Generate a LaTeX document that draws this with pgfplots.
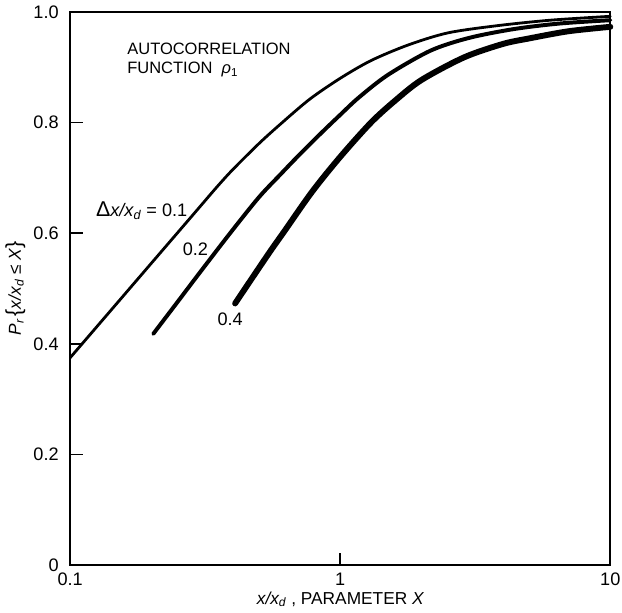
\documentclass[border=0pt]{standalone}
\usepackage{fontspec}
\setmainfont{Liberation Sans}
\usepackage{pgfplots}
\pgfplotsset{compat=1.18}
\begin{document}
\begin{tikzpicture}
\begin{axis}[
  width=328pt, height=336pt, scale only axis,
  xmode=log, xmin=0.1, xmax=10, ymin=0, ymax=1,
  xtick={0.1,1,10}, xticklabels={0.1,1,10},
  ytick={0,0.2,0.4,0.6,0.8,1}, yticklabels={0,0.2,0.4,0.6,0.8,1.0},
  xminorticks=false,
  tick align=inside, xtick pos=bottom, ytick pos=left,
  major tick length=7.5pt,
  axis line style={line width=1.2pt},
  every tick/.style={black, line width=1pt},
  ticklabel style={font=\fontsize{11}{13}\selectfont},
  yticklabel style={xshift=-3.5pt},
  xticklabel style={inner sep=1pt, yshift=-3.5pt},
  /pgf/number format/assume math mode=true,
  xlabel={\itshape x/x\textsubscript{d}\upshape\ , PARAMETER \itshape X},
  ylabel={\itshape P\textsubscript{r}\upshape\,{\fontsize{13}{14}\selectfont\{}\itshape x/x\textsubscript{d} \upshape≤ \itshape X\upshape{\fontsize{13}{14}\selectfont\}}},
  label style={font=\fontsize{10.5}{12}\selectfont},
  ylabel style={yshift=-2pt},
  xlabel style={yshift=1pt},
  clip=false,
]
\addplot[black, line width=1.7pt, smooth, tension=0.5, line cap=round] coordinates {
 (0.1,0.375) (0.15,0.475) (0.2,0.546) (0.25,0.601) (0.3,0.646) (0.35,0.684)
 (0.4,0.715) (0.5,0.762) (0.6,0.797) (0.77,0.842) (1,0.88) (1.3,0.912)
 (1.78,0.94) (2.5,0.962) (3.8,0.975) (6,0.985) (10,0.992)};
\addplot[black, line width=2.4pt, smooth, tension=0.5, line cap=round] coordinates {
 (0.203,0.418) (0.25,0.476) (0.3,0.527) (0.391,0.6) (0.5,0.665) (0.6,0.706)
 (0.7,0.74) (0.85,0.781) (1,0.814) (1.17,0.845) (1.5,0.886) (2.16,0.93)
 (3,0.953) (4.4,0.969) (6.5,0.979) (10,0.985)};
\addplot[black, line width=3.6pt, smooth, tension=0.5, line cap=round] coordinates {
 (0.408,0.473) (0.463,0.513) (0.55,0.567) (0.62,0.603) (0.787,0.675) (1,0.738)
 (1.3,0.8) (1.6,0.84) (2,0.877) (2.88,0.918) (4,0.942) (5,0.952) (7,0.965)
 (10,0.973)};
\node[anchor=north west, align=left, font=\fontsize{10}{12}\selectfont]
  at (axis cs:0.155,0.955) {AUTOCORRELATION\\FUNCTION \ \itshape ρ\textsubscript{\upshape 1}};
\node[anchor=east, inner sep=0pt, font=\fontsize{11}{13}\selectfont] at (axis cs:0.272,0.64)
  {\fontsize{13}{14}\selectfont Δ\fontsize{11}{13}\selectfont\itshape x/x\textsubscript{d}\upshape\ = 0.1};
\node[font=\fontsize{11}{13}\selectfont] at (axis cs:0.291,0.571) {0.2};
\node[font=\fontsize{11}{13}\selectfont] at (axis cs:0.391,0.444) {0.4};
\end{axis}
\end{tikzpicture}
\end{document}
